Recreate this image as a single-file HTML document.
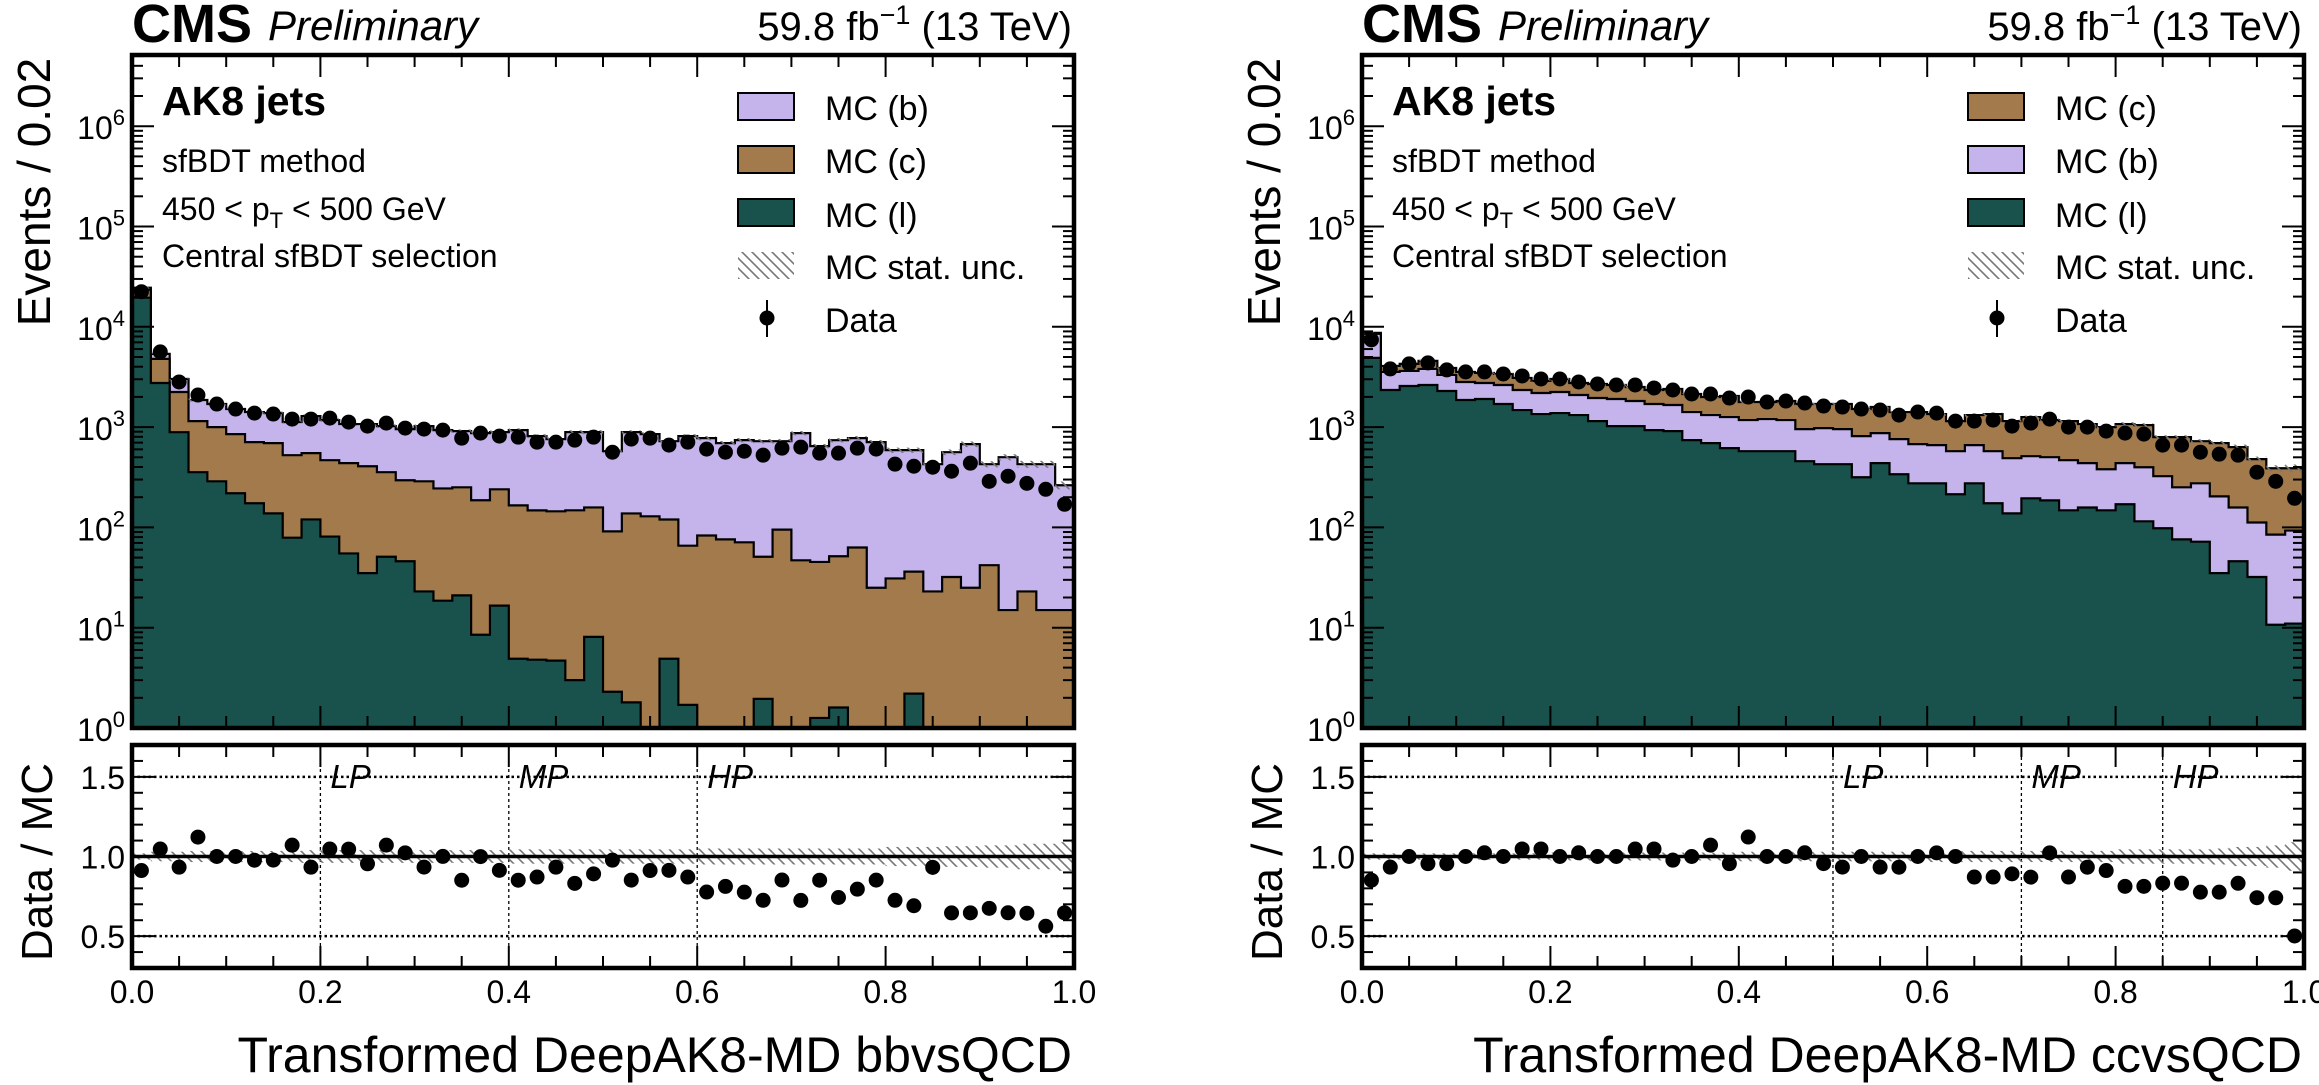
<!DOCTYPE html>
<html><head><meta charset="utf-8"><style>
html,body{margin:0;padding:0;background:#fff;}
svg{display:block;font-family:"Liberation Sans",Arial,sans-serif;}
</style></head><body>
<svg id="fig" width="2319" height="1085" viewBox="0 0 2319 1085" xmlns="http://www.w3.org/2000/svg">
<defs>
<pattern id="hatch" patternUnits="userSpaceOnUse" width="10" height="10">
<path d="M0,0 L10,10 M-1,9 L1,11 M9,-1 L11,1" stroke="#777" stroke-width="1.6"/>
</pattern>
<clipPath id="clipL"><rect x="132" y="55" width="942" height="673"/></clipPath>
<clipPath id="clipR"><rect x="1362" y="55" width="942" height="673"/></clipPath>
<clipPath id="clipLr"><rect x="132" y="745" width="942" height="223"/></clipPath>
<clipPath id="clipRr"><rect x="1362" y="745" width="942" height="223"/></clipPath>
</defs>
<g id="layer"></g>
</svg>
<script>
// ---------- data: left panel (bbvsQCD) ----------
const binEdges = [0,0.02,0.04,0.06,0.08,0.10,0.12,0.14,0.16,0.18,0.20,0.22,0.24,0.26,0.28,0.30,0.32,0.34,0.36,0.38,0.40,0.42,0.44,0.46,0.48,0.50,0.52,0.54,0.56,0.58,0.60,0.62,0.64,0.66,0.68,0.70,0.72,0.74,0.76,0.78,0.80,0.82,0.84,0.86,0.88,0.90,0.92,0.94,0.96,0.98,1.00];
const leftMcL = [19500,2750,890,355,288,219,174,138,79,120,81,55,35,51,46,23,18.6,21,8.5,16.6,4.9,4.8,4.7,3.0,8.1,2.3,1.8,0,4.9,1.7,0,0,0,1.95,0,0,1.26,1.6,0,0,0,2.2,0,0,0,0,0,0,0,0];
const leftMcC = [3940,2036,1349,793,712,632,534,554,446,430,387,382,372,304,249,265,226,230,178,223,161,143,140,145,150,89,136,129,115,64,83,76,71,49,95,47,44,50,63,25,31,34,23,32,25,42,15,23,15,15];
const leftMcB = [1110,584,781,714,698,663,705,688,597,738,707,635,665,668,660,735,688,661,685,651,767,665,614,743,733,484,753,722,604,747,693,616,670,673,629,824,601,689,713,683,558,553,404,530,651,385,486,404,412,248];
const leftData = [22390,5623,2818,2089,1698,1514,1380,1349,1202,1202,1230,1122,1023,1096,977,955,933,776,871,813,794,708,708,741,794,562,759,776,661,708,603,562,575,525,617,631,550,550,617,603,427,407,398,363,437,288,324,275,240,170];
const leftUnc = [0.02,0.03,0.03,0.035,0.035,0.035,0.035,0.035,0.035,0.04,0.04,0.04,0.04,0.04,0.04,0.04,0.04,0.04,0.04,0.04,0.045,0.045,0.045,0.045,0.045,0.045,0.045,0.045,0.045,0.045,0.05,0.05,0.05,0.05,0.05,0.05,0.05,0.05,0.05,0.05,0.06,0.06,0.06,0.065,0.065,0.07,0.07,0.08,0.08,0.09];
const leftWP = [0.2,0.4,0.6];
const leftWPLabels = ["LP","MP","HP"];
// ---------- data: right panel (ccvsQCD) ----------
const rightMcL = [4898,2344,2570,2630,2291,1862,1905,1698,1479,1349,1380,1318,1148,1023,1023,933,912,741,692,617,575,575,575,457,427,427,316,437,339,275,275,214,275,174,138,195,186,148,158,148,170,115,98,76,72,35,46,32,10.7,11];
const rightMcB = [3613,1204,1061,1172,1020,956,849,932,865,839,859,771,802,882,797,765,748,672,626,642,600,627,600,498,550,528,497,434,420,401,386,361,386,401,352,318,315,320,279,232,267,283,226,175,203,169,112,80,74,82];
const rightMcC = [199,526,635,769,579,730,713,758,746,696,781,665,742,725,692,646,739,725,677,783,603,576,645,743,721,743,701,714,654,737,688,573,657,774,658,746,674,680,635,620,635,649,470,543,449,488,473,367,304,296];
const rightData = [7413,3802,4266,4365,3715,3548,3548,3388,3236,3020,3020,2818,2692,2630,2630,2455,2344,2138,2138,1950,1995,1778,1820,1738,1622,1585,1514,1479,1318,1413,1380,1148,1148,1175,1023,1096,1202,1000,1000,912,871,851,661,661,562,537,525,355,288,195];
const rightUnc = [0.02,0.02,0.02,0.02,0.02,0.02,0.02,0.02,0.02,0.02,0.025,0.025,0.025,0.025,0.025,0.025,0.025,0.025,0.025,0.025,0.03,0.03,0.03,0.03,0.03,0.03,0.03,0.03,0.03,0.03,0.035,0.035,0.035,0.035,0.035,0.035,0.035,0.035,0.035,0.035,0.045,0.045,0.045,0.045,0.045,0.05,0.06,0.06,0.07,0.09];
const rightWP = [0.5,0.7,0.85];
const rightWPLabels = ["LP","MP","HP"];
// ---------- ticks ----------
const xTickLabels = ["0.0","0.2","0.4","0.6","0.8","1.0"];
const xTickValues = [0,0.2,0.4,0.6,0.8,1.0];
const logExponents = [0,1,2,3,4,5,6];
const ratioTickValues = [0.5,1.0,1.5];
const ratioTickLabels = ["0.5","1.0","1.5"];

const NS = "http://www.w3.org/2000/svg";
const layer = document.getElementById('layer');
function mk(tag, attrs, parent){ const e=document.createElementNS(NS,tag); for(const k in attrs) e.setAttribute(k,attrs[k]); (parent||layer).appendChild(e); return e; }

const MAIN_TOP=55, MAIN_BOT=728, DEC=100.3, R_TOP=745, R_BOT=968, R_MIN=0.3, R_MAX=1.7;
const COL = {b:"#c5b3ec", c:"#a27a4c", l:"#19524d"};
function ys(v){ if(v<=0) return MAIN_BOT+30; return MAIN_BOT - Math.log10(v)*DEC; }
function yr(r){ return R_BOT - (r-R_MIN)/(R_MAX-R_MIN)*(R_BOT-R_TOP); }

function drawPanel(p){
  const x0=p.x0, x1=p.x1;
  const xs = v => x0 + v*(x1-x0);
  const n = p.data.length;
  const g = mk('g',{'clip-path':'url(#'+p.clip+')'});
  
  
  // cumulative stacks
  const cum=[]; let run=new Array(n).fill(0);
  p.comps.forEach(c=>{ run=run.map((v,i)=>v+c.vals[i]); cum.push({name:c.name,color:c.color,vals:run.slice()}); });
  for(let k=cum.length-1;k>=0;k--){
    const s=cum[k]; let d='M'+x0+','+(MAIN_BOT+40);
    for(let i=0;i<n;i++){ const y=ys(s.vals[i]); d+=' L'+xs(binEdges[i])+','+y+' L'+xs(binEdges[i+1])+','+y; }
    d+=' L'+x1+','+(MAIN_BOT+40)+' Z';
    const path = mk('path',{d:d,fill:s.color,stroke:'#000','stroke-width':2.2,'stroke-linejoin':'miter'},g);
    
    
  }
  const total = cum[cum.length-1].vals;
  // stat unc hatch on main
  for(let i=0;i<n;i++){
    const hi=ys(total[i]*(1+p.unc[i])), lo=ys(total[i]*(1-p.unc[i]));
    const r=mk('rect',{x:xs(binEdges[i]),y:hi,width:xs(binEdges[i+1])-xs(binEdges[i]),height:lo-hi,fill:'url(#hatch)'},g);
    
    
  }
  // data points
  for(let i=0;i<n;i++){
    const cx=xs((binEdges[i]+binEdges[i+1])/2), v=p.data[i], e=Math.sqrt(v);
    const l=mk('line',{x1:cx,x2:cx,y1:ys(v+e),y2:ys(Math.max(v-e,0.01)),stroke:'#000','stroke-width':2},g);
    
    
    const c=mk('circle',{cx:cx,cy:ys(v),r:7.5,fill:'#000'},g);
    
    
  }
  // ratio panel
  const gr = mk('g',{'clip-path':'url(#'+p.clip+'r)'});
  
  
  ratioTickValues.forEach(t=>{ if(t!==1.0){
    const ln=mk('line',{x1:x0,x2:x1,y1:yr(t),y2:yr(t),stroke:'#000','stroke-width':2.5,'stroke-dasharray':'2.5,3'},gr);
    
    
  }});
  p.wp.forEach((w,j)=>{
    const ln=mk('line',{x1:xs(w),x2:xs(w),y1:R_TOP,y2:R_BOT,stroke:'#000','stroke-width':1.3,'stroke-dasharray':'3,3'},gr);
    
    
    const t=mk('text',{x:xs(w)+10,y:788,'font-size':33,'font-style':'italic'},gr);
    t.textContent=p.wpl[j];
    
    
  });
  for(let i=0;i<n;i++){
    const hi=yr(1+p.unc[i]), lo=yr(1-p.unc[i]);
    const r=mk('rect',{x:xs(binEdges[i]),y:hi,width:xs(binEdges[i+1])-xs(binEdges[i]),height:lo-hi,fill:'url(#hatch)'},gr);
    
    
  }
  const one=mk('line',{x1:x0,x2:x1,y1:yr(1),y2:yr(1),stroke:'#000','stroke-width':3.5},gr);
  
  
  for(let i=0;i<n;i++){
    const cx=xs((binEdges[i]+binEdges[i+1])/2), r=p.data[i]/total[i], e=Math.sqrt(p.data[i])/total[i];
    const l=mk('line',{x1:cx,x2:cx,y1:yr(r+e),y2:yr(r-e),stroke:'#000','stroke-width':2},gr);
    
    
    const c=mk('circle',{cx:cx,cy:yr(r),r:7.5,fill:'#000'},gr);
    
    
  }
  // ticks
  const tk = mk('g',{stroke:'#000','stroke-width':2});
  
  
  for(let k=0;k<=20;k++){
    const x=xs(k*0.05), L=(k%4===0)?22:12;
    [[MAIN_BOT,-1],[MAIN_TOP,1],[R_BOT,-1],[R_TOP,1]].forEach(([y,s])=>{ mk('line',{x1:x,x2:x,y1:y,y2:y+s*L},tk); });
  }
  logExponents.forEach(e=>{
    const y=MAIN_BOT-e*DEC;
    mk('line',{x1:x0,x2:x0+22,y1:y,y2:y},tk); mk('line',{x1:x1,x2:x1-22,y1:y,y2:y},tk);
    for(let m=2;m<=9;m++){ const ym=MAIN_BOT-(e+Math.log10(m))*DEC; if(ym<MAIN_TOP) break;
      mk('line',{x1:x0,x2:x0+11,y1:ym,y2:ym},tk); mk('line',{x1:x1,x2:x1-11,y1:ym,y2:ym},tk); }
  });
  for(let k=4;k<=16;k++){ const y=yr(k/10), L=(k%5===0)?22:11;
    mk('line',{x1:x0,x2:x0+L,y1:y,y2:y},tk); mk('line',{x1:x1,x2:x1-L,y1:y,y2:y},tk); }
  // spines
  const sp1=mk('rect',{x:x0,y:MAIN_TOP,width:x1-x0,height:MAIN_BOT-MAIN_TOP,fill:'none',stroke:'#000','stroke-width':4.5});
  
  
  const sp2=mk('rect',{x:x0,y:R_TOP,width:x1-x0,height:R_BOT-R_TOP,fill:'none',stroke:'#000','stroke-width':4.5});
  
  
  // tick labels
  xTickValues.forEach((v,j)=>{
    const t=mk('text',{x:xs(v),y:1003,'font-size':32,'text-anchor':'middle'});
    t.textContent=xTickLabels[j];
    
    
  });
  logExponents.forEach(e=>{
    const y=MAIN_BOT-e*DEC;
    const t=mk('text',{x:x0-7,y:y+13,'font-size':32,'text-anchor':'end'});
    const a=document.createElementNS(NS,'tspan'); a.textContent='10'; t.appendChild(a);
    const b=document.createElementNS(NS,'tspan'); b.setAttribute('dy','-14'); b.setAttribute('font-size','22'); b.textContent=String(e); t.appendChild(b);
    
    
  });
  ratioTickValues.forEach((v,j)=>{
    const t=mk('text',{x:x0-7,y:yr(v)+12,'font-size':32,'text-anchor':'end'});
    t.textContent=ratioTickLabels[j];
    
    
  });
}

drawPanel({key:'left',x0:132,x1:1074,clip:'clipL',data:leftData,unc:leftUnc,wp:leftWP,wpl:leftWPLabels,
  comps:[{name:'l',color:COL.l,vals:leftMcL},{name:'c',color:COL.c,vals:leftMcC},{name:'b',color:COL.b,vals:leftMcB}]});
drawPanel({key:'right',x0:1362,x1:2304,clip:'clipR',data:rightData,unc:rightUnc,wp:rightWP,wpl:rightWPLabels,
  comps:[{name:'l',color:COL.l,vals:rightMcL},{name:'b',color:COL.b,vals:rightMcB},{name:'c',color:COL.c,vals:rightMcC}]});
</script>
<svg width="2319" height="1085" viewBox="0 0 2319 1085" style="position:absolute;left:0;top:0;font-family:'Liberation Sans',Arial,sans-serif">
<!-- left panel labels -->
<text x="132" y="42" font-size="54" font-weight="bold">CMS</text>
<text x="268" y="40" font-size="42" font-style="italic">Preliminary</text>
<text x="1072" y="40" font-size="40" text-anchor="end">59.8 fb<tspan dy="-16" font-size="27">−1</tspan><tspan dy="16"> (13 TeV)</tspan></text>
<text transform="translate(50,192) rotate(-90)" font-size="46" text-anchor="middle">Events / 0.02</text>
<text transform="translate(52,862) rotate(-90)" font-size="44" text-anchor="middle">Data / MC</text>
<text x="1072" y="1072" font-size="50" text-anchor="end">Transformed DeepAK8-MD bbvsQCD</text>
<text x="162" y="115" font-size="41" font-weight="bold">AK8 jets</text>
<text x="162" y="172" font-size="32">sfBDT method</text>
<text x="162" y="220" font-size="32">450 &lt; p<tspan dy="8" font-size="22">T</tspan><tspan dy="-8"> &lt; 500 GeV</tspan></text>
<text x="162" y="267" font-size="32">Central sfBDT selection</text>
<g>
<rect x="738" y="93" width="56" height="27" fill="#c5b3ec" stroke="#000" stroke-width="2"/>
<text x="825" y="120" font-size="34">MC (b)</text>
<rect x="738" y="146" width="56" height="27" fill="#a27a4c" stroke="#000" stroke-width="2"/>
<text x="825" y="173" font-size="34">MC (c)</text>
<rect x="738" y="199" width="56" height="27" fill="#19524d" stroke="#000" stroke-width="2"/>
<text x="825" y="227" font-size="34">MC (l)</text>
<rect x="738" y="252" width="56" height="27" fill="url(#hatch)"/>
<text x="825" y="279" font-size="34">MC stat. unc.</text>
<line x1="767" x2="767" y1="300" y2="337" stroke="#000" stroke-width="2"/>
<circle cx="767" cy="318" r="7.5" fill="#000"/>
<text x="825" y="332" font-size="34">Data</text>
</g>
<!-- right panel labels -->
<text x="1362" y="42" font-size="54" font-weight="bold">CMS</text>
<text x="1498" y="40" font-size="42" font-style="italic">Preliminary</text>
<text x="2302" y="40" font-size="40" text-anchor="end">59.8 fb<tspan dy="-16" font-size="27">−1</tspan><tspan dy="16"> (13 TeV)</tspan></text>
<text transform="translate(1280,192) rotate(-90)" font-size="46" text-anchor="middle">Events / 0.02</text>
<text transform="translate(1282,862) rotate(-90)" font-size="44" text-anchor="middle">Data / MC</text>
<text x="2302" y="1072" font-size="50" text-anchor="end">Transformed DeepAK8-MD ccvsQCD</text>
<text x="1392" y="115" font-size="41" font-weight="bold">AK8 jets</text>
<text x="1392" y="172" font-size="32">sfBDT method</text>
<text x="1392" y="220" font-size="32">450 &lt; p<tspan dy="8" font-size="22">T</tspan><tspan dy="-8"> &lt; 500 GeV</tspan></text>
<text x="1392" y="267" font-size="32">Central sfBDT selection</text>
<g>
<rect x="1968" y="93" width="56" height="27" fill="#a27a4c" stroke="#000" stroke-width="2"/>
<text x="2055" y="120" font-size="34">MC (c)</text>
<rect x="1968" y="146" width="56" height="27" fill="#c5b3ec" stroke="#000" stroke-width="2"/>
<text x="2055" y="173" font-size="34">MC (b)</text>
<rect x="1968" y="199" width="56" height="27" fill="#19524d" stroke="#000" stroke-width="2"/>
<text x="2055" y="227" font-size="34">MC (l)</text>
<rect x="1968" y="252" width="56" height="27" fill="url(#hatch)"/>
<text x="2055" y="279" font-size="34">MC stat. unc.</text>
<line x1="1997" x2="1997" y1="300" y2="337" stroke="#000" stroke-width="2"/>
<circle cx="1997" cy="318" r="7.5" fill="#000"/>
<text x="2055" y="332" font-size="34">Data</text>
</g>
</svg>
</body></html>
